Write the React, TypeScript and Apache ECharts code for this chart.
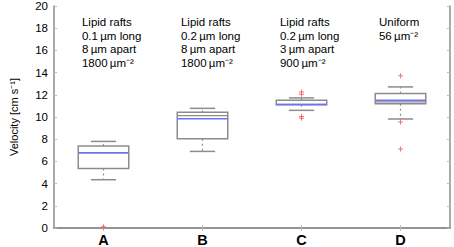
import React, { useEffect, useRef } from "react";
import * as echarts from "echarts";

const categories = ["A", "B", "C", "D"];
// [lowerWhisker, q1, median, q3, upperWhisker]
const boxValues = [
  [4.35, 5.36, 6.78, 7.38, 7.8],
  [6.9, 8.04, 10.12, 10.42, 10.78],
  [10.6, 11.1, 11.13, 11.52, 11.72],
  [9.82, 11.19, 11.36, 12.11, 12.71],
];
const meanValues = [6.78, 9.85, 11.12, 11.52];
const outliers = [
  [0, 0.12],
  [2, 12.25],
  [2, 12.05],
  [2, 10.05],
  [2, 9.88],
  [3, 13.72],
  [3, 9.55],
  [3, 7.12],
];
const annotations = [
  "Lipid rafts\n0.1\u2009µm long\n8\u2009µm apart\n1800\u2009µm⁻²",
  "Lipid rafts\n0.2\u2009µm long\n8\u2009µm apart\n1800\u2009µm⁻²",
  "Lipid rafts\n0.2\u2009µm long\n3\u2009µm apart\n900\u2009µm⁻²",
  "Uniform\n56\u2009µm⁻²",
];
const yTicks = [0, 2, 4, 6, 8, 10, 12, 14, 16, 18, 20];

const FONT = "Liberation Sans, Arial, Helvetica, sans-serif";
const GRAY = "#8c8c8c";

export default function App() {
  const ref = useRef<HTMLDivElement>(null);
  useEffect(() => {
    if (!ref.current) return;
    const chart = echarts.init(ref.current, undefined, { renderer: "svg" });
    const axisLine = { show: true, lineStyle: { color: GRAY, width: 1.5 } };
    chart.setOption({
      animation: false,
      grid: { left: 49, right: 4, top: 4, bottom: 18, containLabel: false },
      xAxis: [
        {
          type: "category",
          data: categories,
          axisLine,
          axisTick: { show: true, inside: true, alignWithLabel: true, length: 3, lineStyle: { color: "#bbb" } },
          axisLabel: { color: "#000", fontSize: 14.5, fontWeight: "bold", fontFamily: FONT, margin: 4 },
          splitLine: { show: false },
        },
        {
          type: "category",
          data: categories,
          position: "top",
          axisLine,
          axisTick: { show: true, inside: true, alignWithLabel: true, length: 3, lineStyle: { color: "#bbb" } },
          axisLabel: { show: false },
          splitLine: { show: false },
        },
      ],
      yAxis: [
        {
          type: "value",
          min: 0,
          max: 20,
          interval: 2,
          name: "Velocity [cm s⁻¹]",
          nameLocation: "middle",
          nameGap: 35,
          nameTextStyle: { color: "#000", fontSize: 11, fontFamily: FONT },
          axisLine,
          axisTick: { show: true, inside: true, length: 3, lineStyle: { color: "#bbb" } },
          axisLabel: {
            color: "#000",
            fontSize: 11.5,
            fontFamily: FONT,
            margin: 6,
            formatter: (v: number) => (yTicks.includes(v) ? String(v) : ""),
          },
          splitLine: { show: false },
        },
        {
          type: "value",
          min: 0,
          max: 20,
          interval: 2,
          position: "right",
          axisLine,
          axisTick: { show: true, inside: true, length: 3, lineStyle: { color: "#bbb" } },
          axisLabel: { show: false },
          splitLine: { show: false },
        },
      ],
      series: [
        {
          type: "custom",
          xAxisIndex: 0,
          yAxisIndex: 0,
          data: boxValues.map((b, i) => [i, ...b, meanValues[i]]),
          encode: { x: 0, y: [1, 2, 3, 4, 5] },
          renderItem: (params: any, api: any) => {
            const i = api.value(0);
            const lw = api.coord([i, api.value(1)]);
            const q1 = api.coord([i, api.value(2)]);
            const md = api.coord([i, api.value(3)]);
            const q3 = api.coord([i, api.value(4)]);
            const uw = api.coord([i, api.value(5)]);
            const mn = api.coord([i, api.value(6)]);
            const bw = api.size([1, 0])[0] * 0.51;
            const cx = lw[0];
            const x0 = cx - bw / 2;
            const capW = bw / 2;
            const stroke = { stroke: GRAY, lineWidth: 1.5, fill: "none" };
            const dash = { stroke: GRAY, lineWidth: 1.2, lineDash: [2, 3] };
            return {
              type: "group",
              children: [
                { type: "line", shape: { x1: cx, y1: q3[1], x2: cx, y2: uw[1] }, style: dash },
                { type: "line", shape: { x1: cx, y1: q1[1], x2: cx, y2: lw[1] }, style: dash },
                { type: "line", shape: { x1: cx - capW / 2, y1: uw[1], x2: cx + capW / 2, y2: uw[1] }, style: { stroke: GRAY, lineWidth: 1.5 } },
                { type: "line", shape: { x1: cx - capW / 2, y1: lw[1], x2: cx + capW / 2, y2: lw[1] }, style: { stroke: GRAY, lineWidth: 1.5 } },
                { type: "rect", shape: { x: x0, y: q3[1], width: bw, height: q1[1] - q3[1] }, style: { ...stroke, fill: "#fff" } },
                { type: "line", shape: { x1: x0, y1: md[1], x2: x0 + bw, y2: md[1] }, style: { stroke: GRAY, lineWidth: 1.3 } },
                { type: "line", shape: { x1: x0, y1: mn[1], x2: x0 + bw, y2: mn[1] }, style: { stroke: "#7070ff", lineWidth: 1.5 } },
              ],
            };
          },
          z: 2,
        },
        {
          type: "scatter",
          xAxisIndex: 0,
          yAxisIndex: 0,
          data: outliers,
          symbol: "path://M0,2h5v1h-5zM2,0h1v5h-1z",
          symbolSize: 5,
          itemStyle: { color: "#ff4d4d" },
          z: 3,
        },
        {
          type: "custom",
          xAxisIndex: 0,
          yAxisIndex: 0,
          data: annotations.map((_, i) => [i, 20]),
          encode: { x: 0, y: 1 },
          renderItem: (params: any, api: any) => {
            const i = api.value(0);
            const p = api.coord([i, 20]);
            const bw = api.size([1, 0])[0] * 0.51;
            return {
              type: "text",
              x: p[0] - bw / 2 + 3.7,
              y: p[1] + 9.3,
              style: {
                text: annotations[i],
                fill: "#000",
                fontSize: 11.5,
                fontFamily: FONT,
                lineHeight: 13.5,
                align: "left",
                verticalAlign: "top",
              },
            };
          },
          z: 4,
        },
      ],
    });
    return () => chart.dispose();
  }, []);
  return <div ref={ref} style={{ width: 454, height: 247, position: "absolute", left: 0, top: 0 }} />;
}
